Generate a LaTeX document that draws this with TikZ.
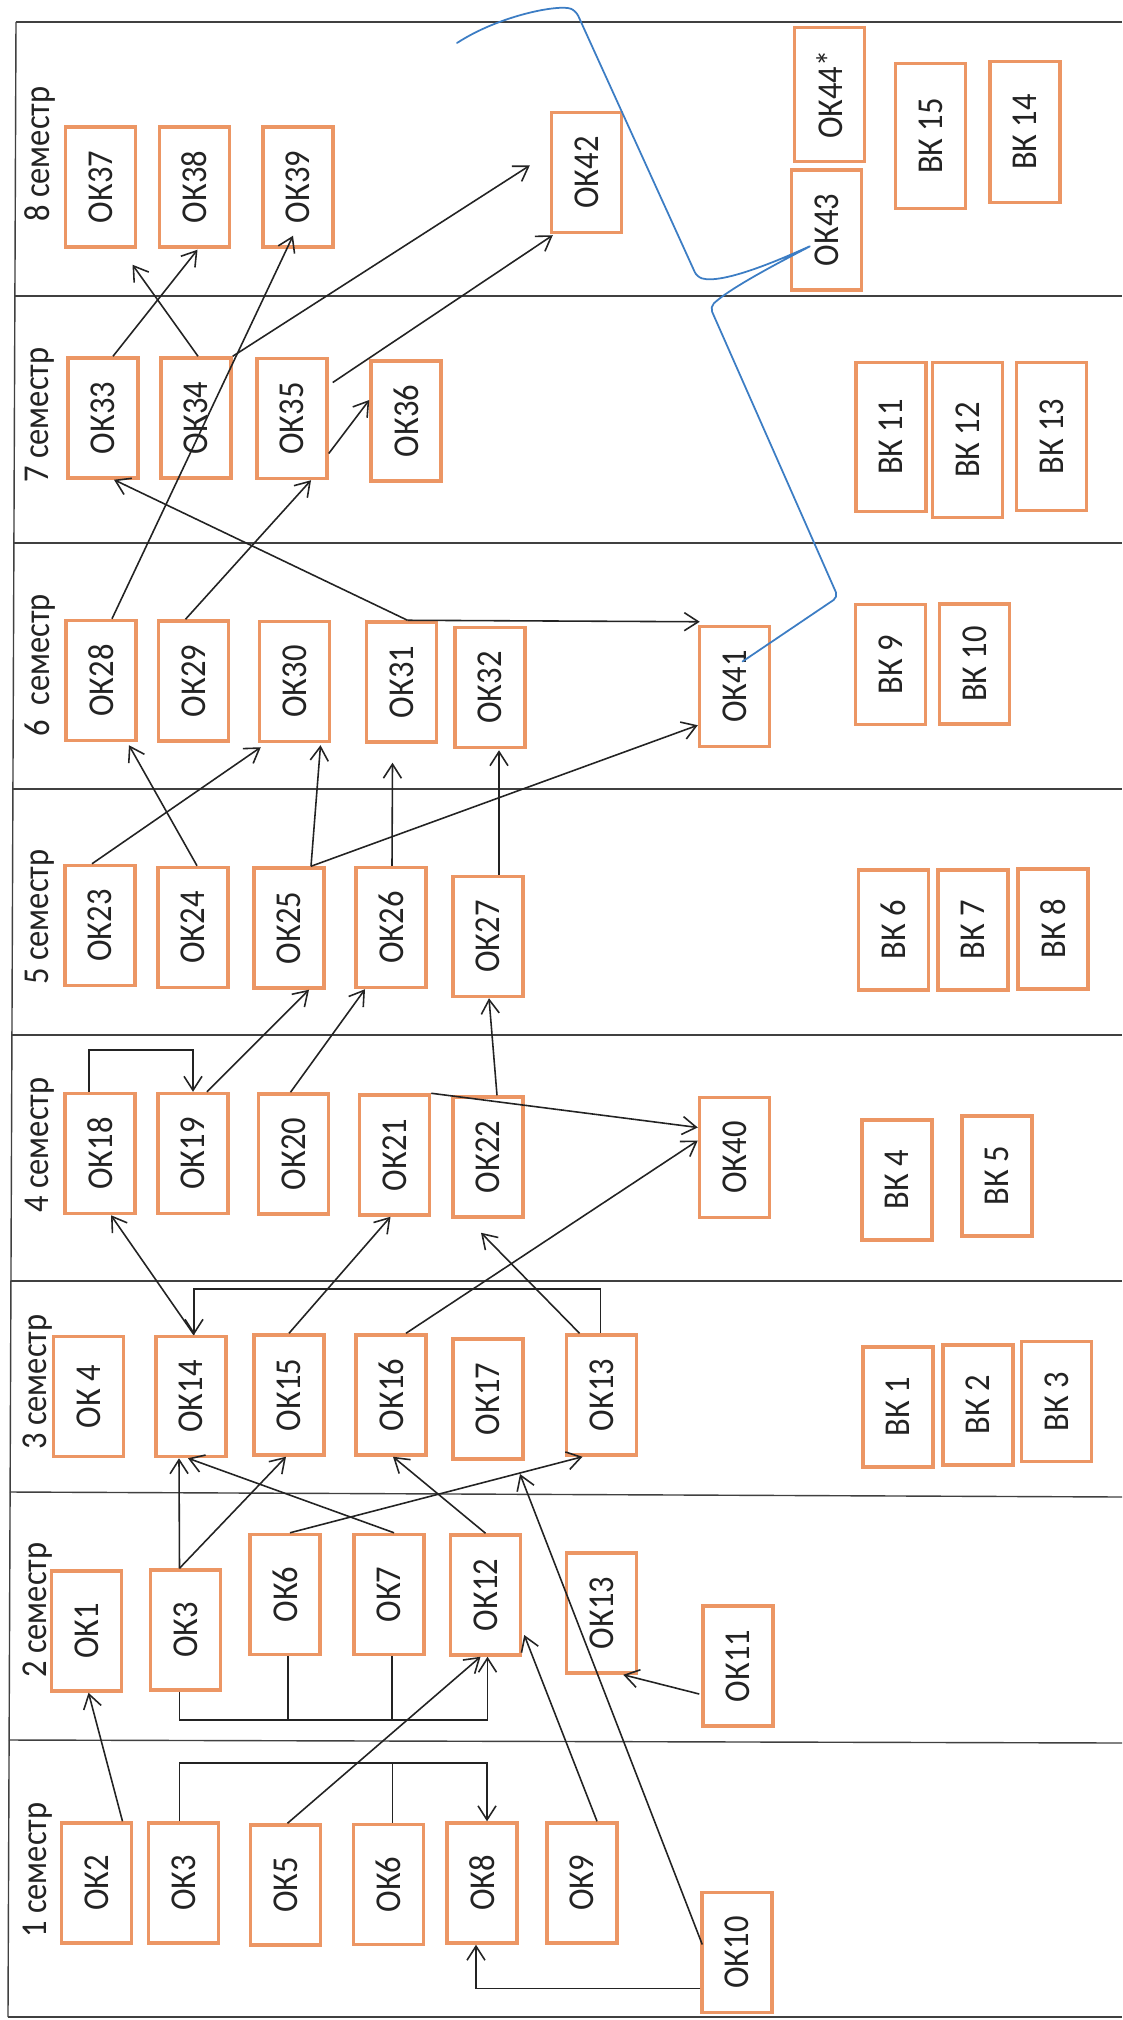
\documentclass[tikz,border=0pt]{standalone}
\usepackage{fontspec}
\usepackage{graphicx}
\setmainfont{Carlito}
\usetikzlibrary{calc,arrows.meta}
\definecolor{boxorange}{RGB}{236,150,100}
\definecolor{inkblack}{RGB}{35,35,35}
\definecolor{penblue}{RGB}{60,125,196}
\newcommand{\vtext}[1]{\rotatebox{90}{\scalebox{1}[1.12]{#1}}}
\begin{document}
\begin{tikzpicture}[x=0.02cm,y=-0.02cm,
  box/.style={draw=boxorange, line width=0.07cm, minimum width=1.4cm, minimum height=2.4cm, inner sep=0pt, font=\fontsize{18.5}{20}\selectfont, text=inkblack},
  semlabel/.style={rotate=90, anchor=west, inner sep=0pt, font=\fontsize{18.5}{20}\selectfont, text=inkblack},
  grid/.style={draw=black!75, line width=0.8pt},
  conn/.style={draw=inkblack, line width=0.9pt},
  arr/.style={conn, -{Straight Barb[length=0.28cm,width=0.36cm]}},
  blueline/.style={draw=penblue, line width=1pt, line cap=round, line join=round}]
\useasboundingbox (0,0) rectangle (1122,2020);
\fill[white] (0,0) rectangle (1122,2020);
% frame
\draw[grid] (16,22) -- (8,2017);
\draw[grid] (16,22) -- (1122,22);
\draw[grid] (15,296) -- (1122,296);
\draw[grid] (14,543) -- (1122,543);
\draw[grid] (13,789) -- (1122,789);
\draw[grid] (12,1035) -- (1122,1035);
\draw[grid] (11,1281) -- (1122,1281);
\draw[grid] (10,1492) -- (1122,1497);
\draw[grid] (9,1740) -- (1122,1743);
\draw[grid] (8,2017) -- (1122,2017);
% semester labels
\node[semlabel] (s8) at (40,222) {\scalebox{1}[1.12]{8 семестр}};
\node[semlabel] (s7) at (40,483) {\scalebox{1}[1.12]{7 семестр}};
\node[semlabel] (s6) at (40,737) {\scalebox{1}[1.12]{6 \ семестр}};
\node[semlabel] (s5) at (40,985) {\scalebox{1}[1.12]{5 семестр}};
\node[semlabel] (s4) at (40,1213) {\scalebox{1}[1.12]{4 семестр}};
\node[semlabel] (s3) at (38,1450) {\scalebox{1}[1.12]{3 семестр}};
\node[semlabel] (s2) at (38,1678) {\scalebox{1}[1.12]{2 семестр}};
\node[semlabel] (s1) at (38,1938) {\scalebox{1}[1.12]{1 семестр}};
% semester 8
\node[box] (ok37) at (100.5,187) {\vtext{ОК37}};
\node[box] (ok38) at (194.5,187) {\vtext{ОК38}};
\node[box] (ok39) at (298,187) {\vtext{ОК39}};
\node[box] (ok42) at (586.5,172.5) {\vtext{ОК42}};
\node[box, minimum height=2.68cm] (ok44) at (829.5,94.5) {\vtext{ОК44*}};
\node[box] (ok43) at (826.5,230) {\vtext{ОК43}};
\node[box, minimum height=2.9cm] (vk15) at (930.5,136) {\vtext{ВК 15}};
\node[box, minimum height=2.82cm] (vk14) at (1025,132) {\vtext{ВК 14}};
% semester 7
\node[box] (ok33) at (103,418) {\vtext{ОК33}};
\node[box] (ok34) at (196,418) {\vtext{ОК34}};
\node[box] (ok35) at (292,418.5) {\vtext{ОК35}};
\node[box] (ok36) at (406,421) {\vtext{ОК36}};
\node[box, minimum height=2.98cm] (vk11) at (891,437) {\vtext{ВК 11}};
\node[box, minimum height=3.1cm] (vk12) at (967.5,440) {\vtext{ВК 12}};
\node[box, minimum height=2.96cm] (vk13) at (1051.5,436.5) {\vtext{ВК 13}};
% semester 6
\node[box] (ok28) at (101,680.5) {\vtext{ОК28}};
\node[box] (ok29) at (193.5,681) {\vtext{ОК29}};
\node[box] (ok30) at (294.5,681.5) {\vtext{ОК30}};
\node[box] (ok31) at (401.5,682) {\vtext{ОК31}};
\node[box] (ok32) at (490,687.5) {\vtext{ОК32}};
\node[box] (ok41) at (734.5,686.5) {\vtext{ОК41}};
\node[box] (vk9) at (890.5,664.5) {\vtext{ВК 9}};
\node[box] (vk10) at (974.5,664) {\vtext{ВК 10}};
% semester 5
\node[box] (ok23) at (100,925.5) {\vtext{ОК23}};
\node[box] (ok24) at (193,927.5) {\vtext{ОК24}};
\node[box] (ok25) at (289,928) {\vtext{ОК25}};
\node[box] (ok26) at (391,927.5) {\vtext{ОК26}};
\node[box] (ok27) at (488,936.5) {\vtext{ОК27}};
\node[box] (vk6) at (893.5,930) {\vtext{ВК 6}};
\node[box] (vk7) at (973,930) {\vtext{ВК 7}};
\node[box] (vk8) at (1053,929) {\vtext{ВК 8}};
% semester 4
\node[box] (ok18) at (100,1153.5) {\vtext{ОК18}};
\node[box] (ok19) at (193,1153.5) {\vtext{ОК19}};
\node[box] (ok20) at (293.5,1154) {\vtext{ОК20}};
\node[box] (ok21) at (394.5,1155) {\vtext{ОК21}};
\node[box] (ok22) at (488,1157) {\vtext{ОК22}};
\node[box] (ok40) at (734.5,1157.5) {\vtext{ОК40}};
\node[box] (vk4) at (897,1180) {\vtext{ВК 4}};
\node[box] (vk5) at (997,1176) {\vtext{ВК 5}};
% semester 3
\node[box] (ok4) at (88.5,1396.5) {\vtext{ОК 4}};
\node[box] (ok14) at (191,1396.5) {\vtext{ОК14}};
\node[box] (ok15) at (289,1395) {\vtext{ОК15}};
\node[box] (ok16) at (391,1395) {\vtext{ОК16}};
\node[box] (ok17) at (488,1399) {\vtext{ОК17}};
\node[box] (ok13c) at (601.5,1395) {\vtext{ОК13}};
\node[box] (vk1) at (898,1407) {\vtext{ВК 1}};
\node[box] (vk2) at (978,1405) {\vtext{ВК 2}};
\node[box] (vk3) at (1056.5,1401.5) {\vtext{ВК 3}};
% semester 2
\node[box] (ok1) at (86.5,1631) {\vtext{ОК1}};
\node[box] (ok3b) at (185.5,1630) {\vtext{ОК3}};
\node[box] (ok6b) at (285,1594.5) {\vtext{ОК6}};
\node[box] (ok7b) at (389,1594.5) {\vtext{ОК7}};
\node[box] (ok12) at (485.5,1595) {\vtext{ОК12}};
\node[box] (ok13b) at (601.5,1613) {\vtext{ОК13}};
\node[box] (ok11) at (738,1666) {\vtext{ОК11}};
% semester 1
\node[box] (ok2) at (96.5,1883) {\vtext{ОК2}};
\node[box] (ok3a) at (183.5,1883) {\vtext{ОК3}};
\node[box] (ok5) at (285.5,1885) {\vtext{ОК5}};
\node[box] (ok6a) at (388.5,1884.5) {\vtext{ОК6}};
\node[box] (ok8) at (482,1883) {\vtext{ОК8}};
\node[box] (ok9) at (582,1883) {\vtext{ОК9}};
\node[box] (ok10) at (737,1952.5) {\vtext{ОК10}};
% free ends
\coordinate (e10) at (520,1474);
\coordinate (eblue) at (457,43);
% connectors, semester 1
\draw[arr] ($(ok2.north)+(26,0)$) -- ($(ok1.south)+(2,0)$);
\draw[arr] ($(ok3a.north)+(-4,0)$) -- ++(0,-58) -| ($(ok8.north)+(5,0)$);
\draw[conn] ($(ok6a.north)+(4,0)$) -- ++(0,-60);
\draw[arr] ($(ok5.north)+(2,0)$) -- ($(ok12.south)+(-5,0)$);
\draw[arr] ($(ok9.north)+(15,0)$) -- ($(ok12.east)+(2,40)$);
\draw[arr] ($(ok10.west)+(0,36)$) -| ($(ok8.south)+(-6,0)$);
\draw[arr] ($(ok10.west)+(2,-8)$) -- (e10);
\draw[arr] ($(ok11.west)+(-2,28)$) -- ($(ok13b.south east)+(-15,0)$);
% semester 2
\draw[arr] ($(ok3b.south)+(-6,0)$) -- ++(0,28) -| ($(ok12.south)+(2,0)$);
\draw[conn] ($(ok6b.south)+(3,0)$) -- ++(0,64);
\draw[conn] ($(ok7b.south)+(3,0)$) -- ++(0,64);
\draw[arr] ($(ok3b.north)+(-6,0)$) -- ($(ok14.south)+(-12,0)$);
\draw[arr] ($(ok3b.north)+(-6,0)$) -- ($(ok15.south)+(-3,0)$);
\draw[arr] ($(ok6b.north)+(5,0)$) -- ($(ok13c.south)+(-19,0)$);
\draw[arr] ($(ok7b.north)+(5,0)$) -- ($(ok14.south)+(-3,0)$);
\draw[arr] (ok12.north) -- ($(ok16.south)+(2,0)$);
% semester 3
\draw[arr] ($(ok13c.north)+(-1,0)$) -- ++(0,-44) -| ($(ok14.north)+(3,0)$);
\draw[arr] ($(ok14.north)+(3,0)$) -- ($(ok18.south)+(11,0)$);
\draw[arr] (ok15.north) -- ($(ok21.south)+(-4,0)$);
\draw[arr] ($(ok16.north)+(15,0)$) -- ($(ok40.west)+(0,-17)$);
\draw[arr] ($(ok13c.north)+(-22,0)$) -- ($(ok22.south)+(-7,14)$);
% semester 4
\draw[arr] ($(ok18.north)+(-11,0)$) -- ++(0,-42) -| (ok19.north);
\draw[arr] ($(ok19.north)+(14,0)$) -- ($(ok25.south)+(20,0)$);
\draw[arr] ($(ok20.north)+(-3,0)$) -- ($(ok26.south)+(-26,0)$);
\draw[arr] (ok21.north east) -- ($(ok40.west)+(0,-30)$);
\draw[arr] ($(ok22.north)+(9,0)$) -- ($(ok27.south)+(1,0)$);
% semester 5
\draw[arr] ($(ok23.north)+(-8,0)$) -- ($(ok30.south west)+(3,4)$);
\draw[arr] ($(ok24.north)+(4,0)$) -- ($(ok28.south)+(28,3)$);
\draw[arr] ($(ok25.north)+(22,0)$) -- ($(ok30.south)+(26,2)$);
\draw[arr] ($(ok25.north)+(22,0)$) -- ($(ok41.south west)+(0,-23)$);
\draw[arr] ($(ok26.north)+(1,0)$) -- ($(ok31.south)+(-9,19)$);
\draw[arr] ($(ok27.north)+(11,0)$) -- ($(ok32.south)+(9,1)$);
% semester 6
\draw[arr] ($(ok28.north)+(11,0)$) -- ($(ok39.south)+(-5,-13)$);
\draw[arr] ($(ok29.north)+(-8,0)$) -- ($(ok35.south)+(19,0)$);
\draw[arr] ($(ok31.north)+(6,0)$) -- ($(ok33.south)+(11,0)$);
\draw[arr] ($(ok31.north)+(6,0)$) -- ($(ok41.north west)+(2,-3)$);
% semester 7
\draw[arr] ($(ok33.north)+(10,0)$) -- ($(ok38.south)+(3,1)$);
\draw[arr] ($(ok34.north)+(2,0)$) -- ($(ok37.south)+(32,16)$);
\draw[arr] (ok34.north east) -- ($(ok42.west)+(-20,-7)$);
\draw[arr] ($(ok35.east)+(4,-36)$) -- ($(ok42.south west)+(3,1)$);
\draw[arr] ($(ok35.east)+(0,35)$) -- ($(ok36.west)+(0,-21)$);
% blue pen stroke
\draw[blueline, rounded corners=3pt] ($(ok41.center)+(8,-25)$) -- (838,597) -- (710,307)
  .. controls (730,288) and (780,262) .. ($(ok43.center)+(-14,15)$)
  .. controls (775,262) and (722,284) .. (697,277)
  -- (576,11) .. controls (560,4) and (500,15) .. (eblue);
\end{tikzpicture}
\end{document}
